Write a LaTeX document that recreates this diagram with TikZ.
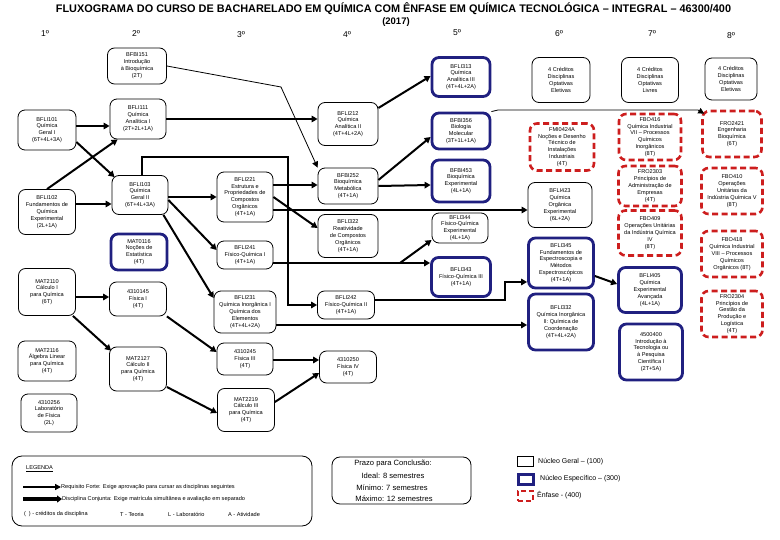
\documentclass[tikz,border=0pt]{standalone}
\usepackage{fontspec}
\setmainfont{Liberation Sans}
\usepackage{graphicx}
\usetikzlibrary{arrows.meta,calc}
\definecolor{navyb}{RGB}{32,32,128}
\definecolor{redd}{RGB}{205,30,30}
\begin{document}
\begin{tikzpicture}[x=1pt,y=-1pt,
  gen/.style={draw, rounded corners=7pt, line width=0.8pt, align=center, inner sep=1pt, fill=white,
    font=\fontsize{5.6}{6.9}\selectfont},
  esp/.style={gen, draw=navyb, line width=2.8pt},
  enf/.style={gen, draw=redd, line width=2.6pt, dash pattern=on 6pt off 3.5pt, inner sep=0pt},
  arr/.style={line width=2pt, -{Triangle[length=6pt,width=6.5pt]}},
  tarr/.style={line width=0.8pt, -{Triangle[length=6pt,width=6pt]}},
  colh/.style={font=\fontsize{8.5}{10}\selectfont},
  lgtxt/.style={anchor=west, inner sep=0pt, font=\fontsize{5.6}{7}\selectfont},
  prz/.style={inner sep=0pt, font=\fontsize{7.6}{9}\selectfont},
  ctxt/.style={anchor=west, inner sep=0pt, font=\fontsize{7}{8}\selectfont}]
\useasboundingbox (0,0) rectangle (780,540);

% title
\node[font=\bfseries\fontsize{11}{13}\selectfont, inner sep=0pt] (title) at (393.5,9)
  {\scalebox{0.99}[1]{FLUXOGRAMA DO CURSO DE BACHARELADO EM QUÍMICA COM ÊNFASE EM QUÍMICA TECNOLÓGICA – INTEGRAL – 46300/400}};
\node[font=\bfseries\fontsize{9.5}{11}\selectfont, inner sep=0pt] (year) at (396,22) {(2017)};

% column headers
\node[colh] (c1) at (45,34) {1º};
\node[colh] (c2) at (136,34) {2º};
\node[colh] (c3) at (241,35) {3º};
\node[colh] (c4) at (347,35) {4º};
\node[colh] (c5) at (457,33) {5º};
\node[colh] (c6) at (559,34) {6º};
\node[colh] (c7) at (652,34) {7º};
\node[colh] (c8) at (731,36) {8º};

% column 1
\node[gen,minimum width=58,minimum height=40] (n101) at (47,130) {BFLI101\\Química\\Geral I\\(6T+4L+3A)};
\node[gen,minimum width=57,minimum height=45] (n102) at (47,212) {BFLI102\\Fundamentos de\\Química\\Experimental\\(2L+1A)};
\node[gen,minimum width=57,minimum height=47] (m2110) at (47,292) {MAT2110\\Cálculo I\\para Química\\(6T)};
\node[gen,minimum width=58,minimum height=40] (m2116) at (47,361) {MAT2116\\Álgebra Linear\\para Química\\(4T)};
\node[gen,minimum width=56,minimum height=38] (f256) at (49,413) {4310256\\Laboratório\\de Física\\(2L)};

% column 2
\node[gen,minimum width=59,minimum height=36] (b151) at (137,66) {BFBI151\\Introdução\\à Bioquímica\\(2T)};
\node[gen,minimum width=56,minimum height=40] (n111) at (138,119) {BFLI111\\Química\\Analítica I\\(2T+2L+1A)};
\node[gen,minimum width=56,minimum height=39] (n103) at (140,195) {BFLI103\\Química\\Geral II\\(6T+4L+3A)};
\node[esp,minimum width=56,minimum height=36] (m116) at (139,252) {MAT0116\\Noções de\\Estatística\\(4T)};
\node[gen,minimum width=57,minimum height=34] (f145) at (138,299) {4310145\\Física I\\(4T)};
\node[gen,minimum width=57,minimum height=44] (m2127) at (138,369) {MAT2127\\Cálculo II\\para Química\\(4T)};

% column 3
\node[gen,minimum width=56,minimum height=50] (n221) at (245,197) {BFLI221\\Estrutura e\\Propriedades de\\Compostos\\Orgânicos\\(4T+1A)};
\node[gen,minimum width=56,minimum height=28] (n241) at (245,255) {BFLI241\\Físico-Química I\\(4T+1A)};
\node[gen,minimum width=62,minimum height=42] (n231) at (245,312) {BFLI231\\Química Inorgânica I\\Química dos\\Elementos\\(4T+4L+2A)};
\node[gen,minimum width=56,minimum height=32] (f245) at (245,359) {4310245\\Física III\\(4T)};
\node[gen,minimum width=57,minimum height=43] (m2219) at (246,410) {MAT2219\\Cálculo III\\para Química\\(4T)};

% column 4
\node[gen,minimum width=60,minimum height=43] (n212) at (348,124) {BFLI212\\Química\\Analítica II\\(4T+4L+2A)};
\node[gen,minimum width=60,minimum height=36] (b252) at (348,186) {BFBI252\\Bioquímica\\Metabólica\\(4T+1A)};
\node[gen,minimum width=60,minimum height=43] (n322) at (348,236) {BFLI322\\Reatividade\\de Compostos\\Orgânicos\\(4T+1A)};
\node[gen,minimum width=57,minimum height=28] (n242) at (346,305) {BFLI242\\Físico-Química II\\(4T+1A)};
\node[gen,minimum width=57,minimum height=32] (f250) at (348,367) {4310250\\Física IV\\(4T)};

% column 5
\node[esp,minimum width=58,minimum height=39] (n313) at (461,77) {BFLI313\\Química\\Analítica III\\(4T+4L+2A)};
\node[esp,minimum width=58,minimum height=36] (b356) at (461,131) {BFBI356\\Biologia\\Molecular\\(3T+1L+1A)};
\node[esp,minimum width=58,minimum height=42] (b453) at (461,181) {BFBI453\\Bioquímica\\Experimental\\(4L+1A)};
\node[gen,minimum width=56,minimum height=30] (n344) at (460,228) {BFLI344\\Físico-Química\\Experimental\\(4L+1A)};
\node[esp,minimum width=59,minimum height=39] (n343) at (461,277) {BFLI343\\Físico-Química III\\(4T+1A)};

% column 6
\node[gen,minimum width=58,minimum height=45] (opt6) at (561,80) {4 Créditos\\Disciplinas\\Optativas\\Eletivas};
\node[enf,minimum width=64,minimum height=47] (fmi) at (562,147) {FMI0424A\\Noções e Desenho\\Técnico de\\Instalações\\Industriais\\(4T)};
\node[gen,minimum width=64,minimum height=45] (n423) at (560,205) {BFLI423\\Química\\Orgânica\\Experimental\\(6L+2A)};
\node[esp,minimum width=65,minimum height=50] (n345) at (561,263) {BFLI345\\Fundamentos de\\Espectroscopia e\\Métodos\\Espectroscópicos\\(4T+1A)};
\node[esp,minimum width=65,minimum height=56] (n332) at (561,322) {BFLI332\\Química Inorgânica\\II: Química de\\Coordenação\\(4T+4L+2A)};

% column 7
\node[gen,minimum width=57,minimum height=45] (opt7) at (650,80) {4 Créditos\\Disciplinas\\Optativas\\Livres};
\node[enf,minimum width=62,minimum height=46] (f416) at (650,137) {FBO416\\Química Industrial\\VII – Processos\\Químicos\\Inorgânicos\\(8T)};
\node[enf,minimum width=63,minimum height=40] (f2303) at (650,186) {FRO2303\\Princípios de\\Administração de\\Empresas\\(4T)};
\node[enf,minimum width=63,minimum height=45] (f409) at (650,233) {FBO409\\Operações Unitárias\\da Indústria Química\\IV\\(8T)};
\node[esp,minimum width=63,minimum height=45] (n405) at (650,290) {BFLI405\\Química\\Experimental\\Avançada\\(4L+1A)};
\node[esp,minimum width=63,minimum height=56] (i4500) at (651,352) {4500400\\Introdução à\\Tecnologia ou\\à Pesquisa\\Científica I\\(2T+5A)};

% column 8
\node[gen,minimum width=52,minimum height=42] (opt8) at (731,79) {4 Créditos\\Disciplinas\\Optativas\\Eletivas};
\node[enf,minimum width=59,minimum height=46] (f2421) at (732,134) {FRO2421\\Engenharia\\Bioquímica\\(6T)};
\node[enf,minimum width=61,minimum height=46] (f410) at (732,191) {FBO410\\Operações\\Unitárias da\\Indústria Química V\\(8T)};
\node[enf,minimum width=61,minimum height=46] (f418) at (732,254) {FBO418\\Química Industrial\\VIII – Processos\\Químicos\\Orgânicos (8T)};
\node[enf,minimum width=61,minimum height=46] (f2304) at (732,314) {FRO2304\\Princípios de\\Gestão da\\Produção e\\Logística\\(4T)};

% bend coordinates
\coordinate (j0) at (281,87);
\coordinate (j1) at (288,157);
\coordinate (j2) at (400,263);
\coordinate (j3) at (505,282);
\coordinate (j4) at (498,110);
\coordinate (j5) at (698,110);

% connectors
\draw[tarr] (b151.east) -- (j0) -- (b252.north west);
\coordinate (s2) at ([yshift=4pt]n101.east);
\draw[arr] (s2) -- (s2 -| n111.west);
\draw[arr] ([yshift=-12pt]n101.east) -- ([xshift=3pt,yshift=-2pt]n103.north west);
\draw[arr] (n102.north) -- ([xshift=8pt]n111.south west);
\coordinate (s5) at ([yshift=8pt]n102.east);
\draw[arr] (s5) -- (s5 -| n103.west);
\draw[arr] (n111.east) -- (n111.east -| n212.west);
\draw[arr] ([xshift=2pt]n103.north) |- (j1) |- (n242.west);
\coordinate (s8) at ([yshift=-2pt]n103.east);
\draw[arr] (s8) -- (s8 -| n221.west);
\draw[arr] ([yshift=-5pt]n103.east) -- ([yshift=5pt]n241.west);
\draw[arr] ([xshift=-5pt]n103.south east) -- ([yshift=14pt]n231.west);
\coordinate (s11) at ([yshift=-5pt]m2110.east);
\draw[arr] (s11) -- (s11 -| f145.west);
\draw[arr] ([xshift=-3pt]m2110.south east) -- ([xshift=2pt,yshift=-4pt]m2127.north west);
\draw[arr] (f145.south east) -- ([yshift=7pt]f245.west);
\draw[arr] ([yshift=-18pt]m2127.east) -- ([yshift=-3pt]m2219.west);
\coordinate (s15) at ([yshift=-1pt]f245.east);
\draw[arr] (s15) -- (s15 -| f250.west);
\draw[arr] ([yshift=8pt]m2219.east) -- ([yshift=-6pt]f250.west);
\coordinate (s17) at ([yshift=12pt]n221.east);
\draw[arr] (s17) -- (s17 -| b252.west);
\draw[arr] (n221.east) -- ([yshift=8pt]n322.west);
\coordinate (s19) at ([yshift=-13pt]n221.east);
\draw[arr] (s19) -- (s19 -| n423.west);
\coordinate (s20) at ([yshift=-8pt]n241.east);
\draw[arr] (s20) -- (s20 -| n343.west);
\draw[arr] (j2) -- ([yshift=-12pt]n344.west);
\draw[arr] ([yshift=5pt]n242.east) -| (j3) -- (j3 -| n345.west);
\coordinate (s22) at ([yshift=-13pt]n231.east);
\draw[arr] (s22) -- (s22 -| n332.west);
\draw[arr] ([yshift=16pt]n212.east) -- ([yshift=1pt]n313.west);
\draw[arr] ([yshift=6pt]b252.east) -- ([yshift=-6pt]b356.west);
\draw[arr] (b252.east) -- ([yshift=-4pt]b453.west);
\draw[tarr] (b356.north east) -- (j4) -- (j5) -- ([xshift=3pt,yshift=-4pt]f2421.north west);
\draw[arr] ([yshift=-13pt]n345.east) -- ([yshift=6pt]n405.west);

% legend
\node[draw, rounded corners=10pt, line width=0.8pt, minimum width=300, minimum height=70] (leg) at (162,491) {};
\node[lgtxt] (legt) at (26,469) {\underline{LEGENDA}};
\node[lgtxt] (lt1) at (61,487) {Requisito Forte: Exige aprovação para cursar as disciplinas seguintes};
\node[lgtxt] (lt2) at (62,499) {Disciplina Conjunta: Exige matrícula simultânea e avaliação em separado};
\coordinate (la1) at (23,487);
\coordinate (la2) at (23,499);
\draw[line width=1.8pt, -{Triangle[length=6pt,width=6pt]}] (la1) -- (lt1.west);
\draw[line width=3.6pt, -{Triangle[length=5pt,width=7pt]}] (la2) -- (lt2.west);
\node[lgtxt] (lt3) at (24,514) {(\,\,\,) - créditos da disciplina};
\node[lgtxt] (lt4) at (120,514) {T - Teoria};
\node[lgtxt] (lt5) at (168,514) {L - Laboratório};
\node[lgtxt] (lt6) at (228,514) {A - Atividade};

% prazo
\node[draw, rounded corners=8pt, line width=0.8pt, minimum width=139, minimum height=47] (prazo) at (401.5,480.5) {};
\node[prz] (p1) at (393,464) {Prazo para Conclusão:};
\node[prz] (p2) at (393,476) {Ideal: 8 semestres};
\node[prz] (p3) at (392,487.5) {Mínimo: 7 semestres};
\node[prz] (p4) at (394,499) {Máximo: 12 semestres};

% colour legend
\node[draw, line width=1.6pt, minimum width=16, minimum height=10, inner sep=0pt] (kg) at (525.5,461.5) {};
\node[draw=navyb, line width=3pt, minimum width=15, minimum height=10, inner sep=0pt] (ke) at (525.5,479) {};
\node[draw=redd, line width=2.8pt, dash pattern=on 5pt off 3pt, minimum width=15, minimum height=10, inner sep=0pt] (kf) at (525.5,496) {};
\node[ctxt] (kt1) at (538,461.5) {Núcleo Geral – (100)};
\node[ctxt] (kt2) at (540,479) {Núcleo Específico – (300)};
\node[ctxt] (kt3) at (537,495) {Ênfase - (400)};
\end{tikzpicture}
\end{document}
